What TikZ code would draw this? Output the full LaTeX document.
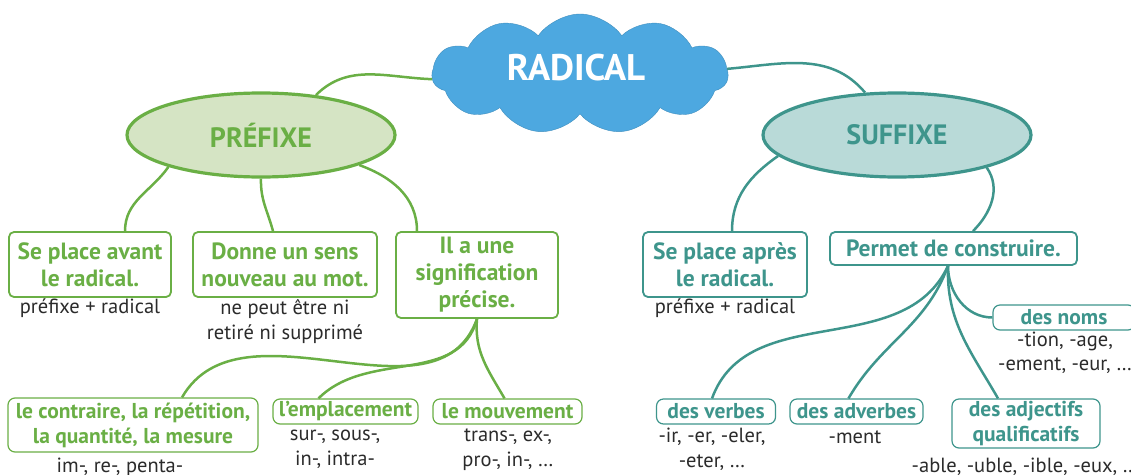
\documentclass[tikz,border=0pt]{standalone}
\usepackage{fontspec}
\setmainfont{PT Sans}
\usetikzlibrary{shapes.geometric,shapes.symbols}
\definecolor{vert}{HTML}{6AAF45}
\definecolor{vertclair}{HTML}{D5E4C4}
\definecolor{teal}{HTML}{3E958C}
\definecolor{tealclair}{HTML}{B9DAD8}
\definecolor{ciel}{HTML}{4DA8E0}
\definecolor{encre}{HTML}{2B2B2B}
\tikzset{
  boitev/.style={draw=vert, line width=1.8pt, rounded corners=5pt, fill=white, text=vert,
    font=\bfseries\fontsize{23.5}{27}\selectfont, align=center, inner sep=0pt},
  boitet/.style={boitev, draw=teal, text=teal},
  petitev/.style={boitev, line width=1.2pt, rounded corners=7pt, font=\bfseries\fontsize{21.5}{25}\selectfont},
  petitet/.style={petitev, draw=teal, text=teal},
  legende/.style={text=encre, font=\fontsize{20.5}{24.5}\selectfont, align=center, inner sep=0pt},
  bulle/.style={ellipse, line width=3.2pt, inner sep=0pt, minimum width=268pt, minimum height=84pt,
    font=\bfseries\fontsize{28}{30}\selectfont},
  liev/.style={draw=vert, line width=2.5pt},
  liet/.style={draw=teal, line width=2.5pt}
}
\begin{document}
\begin{tikzpicture}[x=1pt,y=-1pt]
\useasboundingbox (0,0) rectangle (1131,474);
\node[cloud, cloud puffs=11, cloud puff arc=110, aspect=2.5, fill=ciel, draw=ciel!85!black,
  minimum width=296pt, minimum height=120pt, inner sep=0pt] (rad) at (580,74) {};
\node[text=white, font=\bfseries\fontsize{37}{38}\selectfont] at (576,68) {RADICAL};
\node[bulle, draw=vert, fill=vertclair, text=vert] (pre) at (261,135) {PRÉFIXE};
\node[bulle, draw=teal, fill=tealclair, text=teal] (suf) at (897,135) {SUFFIXE};

\node[boitev, minimum width=162pt, minimum height=65pt] (avant) at (90,264.5) {Se place avant\\le radical.};
\node[boitev, minimum width=184pt, minimum height=65pt] (sens) at (285,264.5) {Donne un sens\\nouveau au mot.};
\node[boitev, minimum width=162pt, minimum height=86pt] (signif) at (477,275) {Il a une\\signification\\précise.};
\node[boitet, minimum width=164pt, minimum height=65pt] (apres) at (725,264.5) {Se place après\\le radical.};
\node[boitet, minimum width=247pt, minimum height=33pt] (constr) at (953.5,248.5) {Permet de construire.};

\node[petitev, minimum width=250pt, minimum height=54pt] (contr) at (133,425) {le contraire, la répétition,\\la quantité, la mesure};
\node[petitev, minimum width=145pt, minimum height=25pt] (empl) at (345.5,411.5) {l’emplacement};
\node[petitev, minimum width=149pt, minimum height=25pt] (mouv) at (507.5,411.5) {le mouvement};
\node[petitet, minimum width=119pt, minimum height=25pt] (verb) at (716,411.5) {des verbes};
\node[petitet, minimum width=133pt, minimum height=25pt] (adv) at (856.5,411.5) {des adverbes};
\node[petitet, minimum width=148pt, minimum height=49pt] (adj) at (1026,423.5) {des adjectifs\\qualificatifs};
\node[petitet, minimum width=142pt, minimum height=25pt] (noms) at (1064,317.5) {des noms};

\node[legende] at (90,308) {préfixe + radical};
\node[legende] at (285,321.5) {ne peut être ni\\retiré ni supprimé};
\node[legende] at (725,308) {préfixe + radical};
\node[legende] at (120,467) {im-, re-, penta-};
\node[legende] at (335,449.5) {sur-, sous-,\\in-, intra-};
\node[legende] at (508,449.5) {trans-, ex-,\\pro-, in-, …};
\node[legende] at (712,449.5) {-ir, -er, -eler,\\-eter, …};
\node[legende] at (855,437) {-ment};
\node[legende] at (1025,467) {-able, -uble, -ible, -eux, …};
\node[legende] at (1065,353) {-tion, -age,\\-ement, -eur, …};

\draw[liev] (pre.36) to[out=45,in=178] (rad.182);
\draw[liet] (rad.2) to[out=5,in=130] (suf.127);
\draw[liev] (pre.199) to[out=235,in=90] ([xshift=35pt]avant.north);
\draw[liev] (pre.south) to[out=268,in=105] ([xshift=-12pt]sens.north);
\draw[liev] (pre.343) to[out=-20,in=90] ([xshift=-60pt]signif.north);
\draw[liet] (suf.190) to[out=215,in=90] ([xshift=7pt]apres.north);
\draw[liet] (suf.340) to[out=-55,in=45] ([xshift=19.5pt]constr.north);
\draw[liev] (signif.south) to[out=265,in=120] ([xshift=-3pt]mouv.north);
\draw[liev] (signif.south) to[out=255,in=45] ([xshift=-27pt]empl.north);
\draw[liev] (signif.south) to[out=250,in=60] ([xshift=49pt]contr.north);
\draw[liet] ([xshift=-5.5pt]constr.south) to[out=270,in=180] (noms.west);
\draw[liet] ([xshift=-5.5pt]constr.south) to[out=268,in=120] ([xshift=-28pt]adj.north);
\draw[liet] ([xshift=-5.5pt]constr.south) to[out=250,in=60] ([xshift=-8pt]adv.north);
\draw[liet] ([xshift=-5.5pt]constr.south) to[out=245,in=70] ([xshift=-4pt]verb.north);
\end{tikzpicture}
\end{document}
